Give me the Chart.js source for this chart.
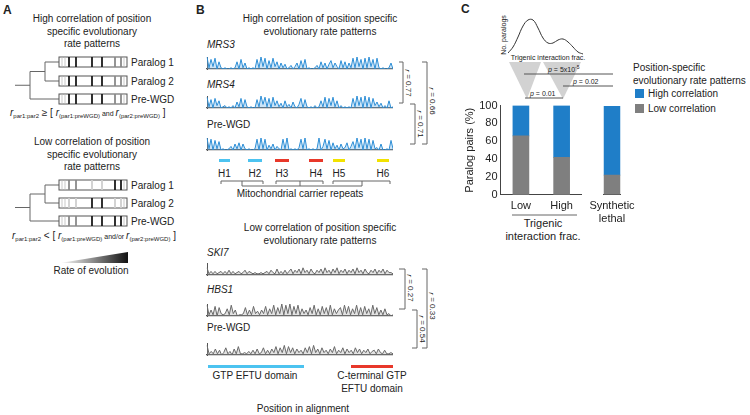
<!DOCTYPE html>
<html>
<head>
<meta charset="utf-8">
<script src="https://cdn.jsdelivr.net/npm/chart.js@4.4.1/dist/chart.umd.min.js"></script>
<style>
  body { margin: 0; background: #fff; }
  #fig { position: relative; width: 750px; height: 415px; overflow: hidden; font-family: "Liberation Sans", Arial, sans-serif; }
  #fig canvas { position: absolute; }
  #fig svg { position: absolute; left: 0; top: 0; }
  svg text { font-family: "Liberation Sans", Arial, sans-serif; fill: #222; }
</style>
</head>
<body>
<div id="fig">
<svg width="750" height="415" id="deco">
  <defs>
    <linearGradient id="rate" x1="0" x2="1" y1="0" y2="0">
      <stop offset="0" stop-color="#fff"/>
      <stop offset="1" stop-color="#111"/>
    </linearGradient>
  </defs>

  <!-- panel A -->
  <text x="3" y="14" font-size="12" font-weight="bold">A</text>
  <g font-size="10" text-anchor="middle">
    <text x="92" y="22">High correlation of position</text>
    <text x="92" y="35">specific evolutionary</text>
    <text x="92" y="47">rate patterns</text>
    <text x="92" y="145">Low correlation of position</text>
    <text x="92" y="158">specific evolutionary</text>
    <text x="92" y="170">rate patterns</text>
  </g>
  <g id="trees" stroke="#666" stroke-width="1" fill="none"></g>
  <g id="boxes"></g>
  <g font-size="10">
    <text x="131" y="66">Paralog 1</text>
    <text x="131" y="85">Paralog 2</text>
    <text x="131" y="103">Pre-WGD</text>
    <text x="131" y="189">Paralog 1</text>
    <text x="131" y="207">Paralog 2</text>
    <text x="131" y="225">Pre-WGD</text>
  </g>
  <text x="10" y="116" font-size="10"><tspan font-style="italic">r</tspan><tspan font-size="6" dy="2">par1:par2</tspan><tspan dy="-2"> ≥ [ </tspan><tspan font-style="italic">r</tspan><tspan font-size="6" dy="2">(par1:preWGD)</tspan><tspan font-size="7" dy="-2"> and </tspan><tspan font-style="italic">r</tspan><tspan font-size="6" dy="2">(par2:preWGD)</tspan><tspan dy="-2"> ]</tspan></text>
  <text x="12" y="239" font-size="10"><tspan font-style="italic">r</tspan><tspan font-size="6" dy="2">par1:par2</tspan><tspan dy="-2"> &lt; [ </tspan><tspan font-style="italic">r</tspan><tspan font-size="6" dy="2">(par1:preWGD)</tspan><tspan font-size="7" dy="-2"> and/or </tspan><tspan font-style="italic">r</tspan><tspan font-size="6" dy="2">(par2:preWGD)</tspan><tspan dy="-2"> ]</tspan></text>
  <polygon points="60,263 128,263 128,252" fill="url(#rate)"/>
  <text x="91" y="274" font-size="10" text-anchor="middle">Rate of evolution</text>

  <!-- panel B -->
  <text x="196" y="14" font-size="12" font-weight="bold">B</text>
  <g font-size="10" text-anchor="middle">
    <text x="320" y="22">High correlation of position specific</text>
    <text x="320" y="35">evolutionary rate patterns</text>
    <text x="320" y="231">Low correlation of position specific</text>
    <text x="320" y="244">evolutionary rate patterns</text>
  </g>
  <g font-size="10">
    <text x="207" y="48" font-style="italic">MRS3</text>
    <text x="207" y="88" font-style="italic">MRS4</text>
    <text x="207" y="128">Pre-WGD</text>
    <text x="207" y="256" font-style="italic">SKI7</text>
    <text x="207" y="293" font-style="italic">HBS1</text>
    <text x="207" y="331">Pre-WGD</text>
  </g>
  <g id="helix"></g>
  <g stroke="#666" stroke-width="1" fill="none">
    <path d="M221,184 V181 H263 V184 M276,184 V181 H323 V184 M333,184 V181 H390 V184"/>
    <path d="M242,181 V186 H362 V181 M300,181 V186"/>
  </g>
  <text x="300" y="197" font-size="10" text-anchor="middle">Mitochondrial carrier repeats</text>
  <rect x="208" y="365" width="96" height="3" fill="#4cc3f0"/>
  <rect x="351" y="365" width="42" height="3" fill="#e8382a"/>
  <g font-size="10" text-anchor="middle">
    <text x="255" y="379">GTP EFTU domain</text>
    <text x="372" y="379">C-terminal GTP</text>
    <text x="372" y="392">EFTU domain</text>
    <text x="303" y="412">Position in alignment</text>
  </g>
  <g stroke="#666" stroke-width="1" fill="none">
    <path d="M399,62 H403 V103 H399"/>
    <path d="M410,104 H415 V144 H410"/>
    <path d="M422,62 H427 V144 H422"/>
    <path d="M399,269 H405 V309 H399"/>
    <path d="M412,310 H417 V348 H412"/>
    <path d="M422,269 H427 V348 H422"/>
  </g>
  <g font-size="8" text-anchor="middle" dominant-baseline="central">
    <text transform="translate(408,83) rotate(90)"><tspan font-style="italic">r</tspan> = 0.77</text>
    <text transform="translate(420,124) rotate(90)"><tspan font-style="italic">r</tspan> = 0.71</text>
    <text transform="translate(432,101) rotate(90)"><tspan font-style="italic">r</tspan> = 0.66</text>
    <text transform="translate(410,288) rotate(90)"><tspan font-style="italic">r</tspan> = 0.27</text>
    <text transform="translate(422,329) rotate(90)"><tspan font-style="italic">r</tspan> = 0.54</text>
    <text transform="translate(432,306) rotate(90)"><tspan font-style="italic">r</tspan> = 0.33</text>
  </g>

  <!-- panel C -->
  <text x="461" y="13" font-size="12" font-weight="bold">C</text>
  <text transform="translate(503,35) rotate(-90)" font-size="7" text-anchor="middle" dominant-baseline="central">No. paralogs</text>
  <text x="548" y="60" font-size="7" text-anchor="middle">Trigenic interaction frac.</text>
  <polygon points="509,62 541,62 527,99" fill="#d2d2d2"/>
  <polygon points="543,62 581,62 563,99" fill="#d2d2d2"/>
  <g stroke="#555" stroke-width="1">
    <line x1="524" y1="74" x2="613" y2="74"/>
    <line x1="563" y1="86" x2="613" y2="86"/>
    <line x1="525" y1="98" x2="563" y2="98"/>
  </g>
  <g font-size="7">
    <text x="548" y="72"><tspan font-style="italic">p</tspan> = 5x10<tspan font-size="5" dy="-3">-5</tspan></text>
    <text x="573" y="84"><tspan font-style="italic">p</tspan> = 0.02</text>
    <text x="530" y="96"><tspan font-style="italic">p</tspan> = 0.01</text>
  </g>
  <line x1="512" y1="215" x2="577" y2="215" stroke="#666" stroke-width="1"/>
  <g font-size="11" text-anchor="middle">
    <text x="543" y="227">Trigenic</text>
    <text x="543" y="240">interaction frac.</text>
  </g>
  <g font-size="10">
    <text x="633" y="71">Position-specific</text>
    <text x="633" y="84">evolutionary rate patterns</text>
    <rect x="635" y="89" width="9" height="9" fill="#1f7ec8"/>
    <text x="648" y="97">High correlation</text>
    <rect x="635" y="104" width="9" height="9" fill="#7f7f7f"/>
    <text x="648" y="112">Low correlation</text>
  </g>
</svg>

<canvas id="mrs3" width="187" height="13" style="left:206px;top:57px"></canvas>
<canvas id="mrs4" width="187" height="13" style="left:206px;top:96px"></canvas>
<canvas id="preHigh" width="187" height="13" style="left:206px;top:138px"></canvas>
<canvas id="ski7" width="187" height="13" style="left:206px;top:263px"></canvas>
<canvas id="hbs1" width="187" height="13" style="left:206px;top:304px"></canvas>
<canvas id="preLow" width="187" height="13" style="left:206px;top:343px"></canvas>
<canvas id="density" width="75" height="40" style="left:508px;top:15px"></canvas>
<canvas id="barsTrigenic" width="119" height="119" style="left:463px;top:99px"></canvas>
<canvas id="barsLethal" width="68" height="125" style="left:578px;top:106px"></canvas>
</div>

<script>
// position specific evolutionary rate (0-10 scale)
const mrs3 = [10,1,8,2,9,0,6, 1,0,1,0,0,1,0,1, 6,0,8,1,5,0, 1,0,1,0,
  8,1,10,2,9,0,7,1,9,2,6, 0,5,1,4,0,1,3,0,2,5,0, 7,1,8, 0,1,0,0,1,
  3,0,6,1,5,0,4,7,1,5, 2,0,7,1,6,0,5,1, 9,1,10,2,8,0,9,1,10,2,8,0,9,1,
  0,1,0,0,1, 5,0]
const mrs4 = [9,1,7,0,8,2,6, 0,1,2,0,1,0,2,0, 5,1,8,0,7,1, 0,1,0,0,
  7,1,10,3,9,1,8,0,9,2,6, 1,4,0,6,1,3,0,5,1,0,3, 8,0,7,1, 0,1,0,2,0,1,
  6,1,9,0,8,2,9,1,6,0,2, 0,1,0,1,0, 8,1,10,2,9,0,10,1,9,0,8,2,5,
  1,4,0,2,0, 6,0,1]
const preWgdHigh = [10,1,9,0,8,1,7, 0,1,0,0,1, 3,0,5,1,6,0,5,1, 0,1,0,0,1,
  9,0,10,1,9, 0,4,1,5,0,3,1, 0,9,1,10,0, 1,0,1,0,2, 9,1,10,0, 1,0,1,0,1,
  10,0,3, 9,1,8,0,6, 1,4,0,5,1,2,6,0,3, 7,1,10,2,9,0,10,1,9,0,8,1,
  2,0,5,0,0, 1,0,8,1]
const ski7 = [6,1,3,1,3,1,2,3,1,3,1,4,1,3,1,2,3,1,2,4,1,3,2,1,2,1,1,2,1,2,
  3,1,4,2,1,5,1,3,1,4,1,3,5,1,4,2,5,1,6,2,4,1,5,2,1,4,2,5,1,6,
  2,4,1,5,2,6,1,4,2,5,1,4,2,5,1,6,2,4,1,5,2,1,4,2,5,1,4,2,5,1,4,2,2,1]
const hbs1 = [9,1,5,1,8,0,7,2,1,2,6,1,9,2,5,0,1,1,2,7,1,5,1,8,2,4,1,5,2,8,
  1,6,2,9,1,7,2,10,1,9,2,10,1,8,2,9,1,6,2,5,1,7,2,9,1,6,1,8,2,7,
  1,9,1,6,2,5,7,1,9,2,8,1,6,2,9,1,7,1,8,2,6,1,9,2,7,1,5,1,6,1,2,0,1]
const preWgdLow = [8,1,3,1,5,1,4,0,2,6,1,3,0,5,1,7,1,1,2,1,3,1,4,1,5,1,2,6,1,4,
  1,5,2,7,1,6,2,8,1,7,2,6,1,5,2,4,1,6,2,7,1,8,2,5,1,6,2,4,1,5,
  2,7,1,4,2,6,1,5,2,4,1,6,2,5,1,4,2,5,1,3,4,1,5,2,1,4,1,1,2,1]

// trigenic interaction fraction distribution (inset, arbitrary units)
const densityValues = [2,8,18,29,35,35,27,17,12,12,15,16,13,8,3,1]

// panel C bars
const groups = ['Low', 'High', 'Synthetic lethal']
const lowCorrPct = [66, 42, 22]
const highCorrPct = [34, 58, 78]

// mitochondrial carrier helices
const helices = [
  { name: 'H1', from: 219, to: 230, color: '#4cc3f0' },
  { name: 'H2', from: 248, to: 262, color: '#4cc3f0' },
  { name: 'H3', from: 275, to: 289, color: '#e8382a' },
  { name: 'H4', from: 309, to: 323, color: '#e8382a' },
  { name: 'H5', from: 333, to: 345, color: '#f2e200' },
  { name: 'H6', from: 377, to: 389, color: '#f2e200' }
]

const blue = '#1f7ec8'
const gray = '#7f7f7f'
const NS = 'http://www.w3.org/2000/svg'

Chart.defaults.font.family = '"Liberation Sans", Arial, sans-serif'
Chart.defaults.color = '#222'

function el(parent, tag, attrs, text) {
  const e = document.createElementNS(NS, tag)
  for (const k in attrs) e.setAttribute(k, attrs[k])
  if (text) e.textContent = text
  parent.appendChild(e)
  return e
}

// --- panel A trees and alignment boxes
const trees = document.getElementById('trees')
function tree(y1, y2, y3) {
  const mid = (y1 + y2) / 2
  const root = (mid + y3) / 2
  el(trees, 'path', { d: `M59,${y1} H45 V${y2} H59 M45,${mid} H30 V${y3} H59 M30,${root} H15` })
}
tree(62, 81, 99)
tree(185, 203, 221)

const boxes = document.getElementById('boxes')
const stripeAt = [10, 17, 33, 43, 56, 62]
function box(y, shades) {
  el(boxes, 'rect', { x: 59, y: y - 5, width: 68, height: 10, fill: '#fff', stroke: '#555', 'stroke-width': 1 })
  ;[3, 6, 65].forEach(p => el(boxes, 'line', { x1: 59 + p, x2: 59 + p, y1: y - 5, y2: y + 5, stroke: '#bbb', 'stroke-width': 0.8 }))
  shades.forEach((c, i) => el(boxes, 'line', { x1: 59 + stripeAt[i], x2: 59 + stripeAt[i], y1: y - 5, y2: y + 5, stroke: c, 'stroke-width': 1.8 }))
}
const K = '#1a1a1a', M = '#8a8a8a', L = '#cfcfcf'
box(62, [K, K, K, K, M, M])
box(81, [K, K, K, K, M, M])
box(99, [K, K, K, K, M, M])
box(185, [M, M, L, L, K, K])
box(203, [L, L, K, K, L, L])
box(221, [M, M, K, K, K, K])

// --- helix bars
const hg = document.getElementById('helix')
helices.forEach(h => {
  el(hg, 'rect', { x: h.from, y: 159, width: h.to - h.from, height: 3, fill: h.color })
  el(hg, 'text', { x: (h.from + h.to) / 2, y: 177, 'font-size': 10, 'text-anchor': 'middle' }, h.name)
})

// --- sparklines
function spark(id, values, color, fillColor) {
  new Chart(document.getElementById(id), {
    type: 'line',
    data: {
      labels: values.map((v, i) => i),
      datasets: [{ data: values, borderColor: color, backgroundColor: fillColor, borderWidth: 1, pointRadius: 0, tension: 0, fill: 'origin' }]
    },
    options: {
      responsive: false,
      animation: false,
      devicePixelRatio: 1,
      layout: { padding: { left: 1, bottom: 1, top: 0, right: 0 } },
      plugins: { legend: { display: false }, tooltip: { enabled: false } },
      scales: {
        x: { ticks: { display: false }, grid: { display: false, drawTicks: false }, border: { display: true, color: '#555', width: 1.2 } },
        y: { min: 0, max: 10, ticks: { display: false }, grid: { display: false, drawTicks: false }, border: { display: true, color: '#555', width: 1 } }
      }
    }
  })
}
spark('mrs3', mrs3, '#2f8fd6', 'rgba(110,180,235,0.35)')
spark('mrs4', mrs4, '#2f8fd6', 'rgba(110,180,235,0.35)')
spark('preHigh', preWgdHigh, '#2f8fd6', 'rgba(110,180,235,0.35)')
spark('ski7', ski7, '#6a6a6a', 'rgba(160,160,160,0.3)')
spark('hbs1', hbs1, '#6a6a6a', 'rgba(160,160,160,0.3)')
spark('preLow', preWgdLow, '#6a6a6a', 'rgba(160,160,160,0.3)')

// --- density inset
new Chart(document.getElementById('density'), {
  type: 'line',
  data: {
    labels: densityValues.map((v, i) => i),
    datasets: [{ data: densityValues, borderColor: '#333', borderWidth: 1, pointRadius: 0, tension: 0.4, fill: false }]
  },
  options: {
    responsive: false,
    animation: false,
    devicePixelRatio: 1,
    layout: { padding: 0 },
    plugins: { legend: { display: false }, tooltip: { enabled: false } },
    scales: { x: { display: false }, y: { display: false, min: 0, max: 40 } }
  }
})

// --- stacked bars
function bars(id, labels, low, high, showY, pad) {
  return new Chart(document.getElementById(id), {
    type: 'bar',
    data: {
      labels: labels,
      datasets: [
        { label: 'Low correlation', data: low, backgroundColor: gray, barThickness: 16 },
        { label: 'High correlation', data: high, backgroundColor: blue, barThickness: 16 }
      ]
    },
    options: {
      responsive: false,
      maintainAspectRatio: false,
      animation: false,
      devicePixelRatio: 1,
      layout: { padding: pad },
      plugins: { legend: { display: false }, tooltip: { enabled: false } },
      scales: {
        x: {
          stacked: true,
          ticks: { font: { size: 11 }, padding: 5, color: '#222', maxRotation: 0, autoSkip: false },
          grid: { display: false, drawTicks: false },
          border: { display: true, color: '#444', width: 1 }
        },
        y: {
          stacked: true,
          display: showY,
          min: 0,
          max: 100,
          ticks: { stepSize: 20, font: { size: 11 }, padding: 3, color: '#222', autoSkip: false },
          grid: { display: false, drawTicks: false },
          border: { display: true, color: '#444', width: 1 },
          title: { display: true, text: 'Paralog pairs (%)', font: { size: 11 }, color: '#222', padding: { top: 0, bottom: 0 } }
        }
      }
    }
  })
}

// put the plot area of a bar chart at y = 106 (value 100) .. 195 (value 0)
function placeArea(chart, top, height) {
  const a = chart.chartArea
  const h = chart.height - (a.bottom - a.top) + height
  chart.resize(chart.width, Math.round(h))
  chart.canvas.style.top = Math.round(top - chart.chartArea.top) + 'px'
}
const trigenicBars = bars('barsTrigenic', groups.slice(0, 2), lowCorrPct.slice(0, 2), highCorrPct.slice(0, 2), true, { right: 0 })
placeArea(trigenicBars, 106, 89)
const lethalBars = bars('barsLethal', [groups[2].split(' ')], lowCorrPct.slice(2), highCorrPct.slice(2), false, { left: 19, right: 19 })
placeArea(lethalBars, 106, 89)
</script>
</body>
</html>
